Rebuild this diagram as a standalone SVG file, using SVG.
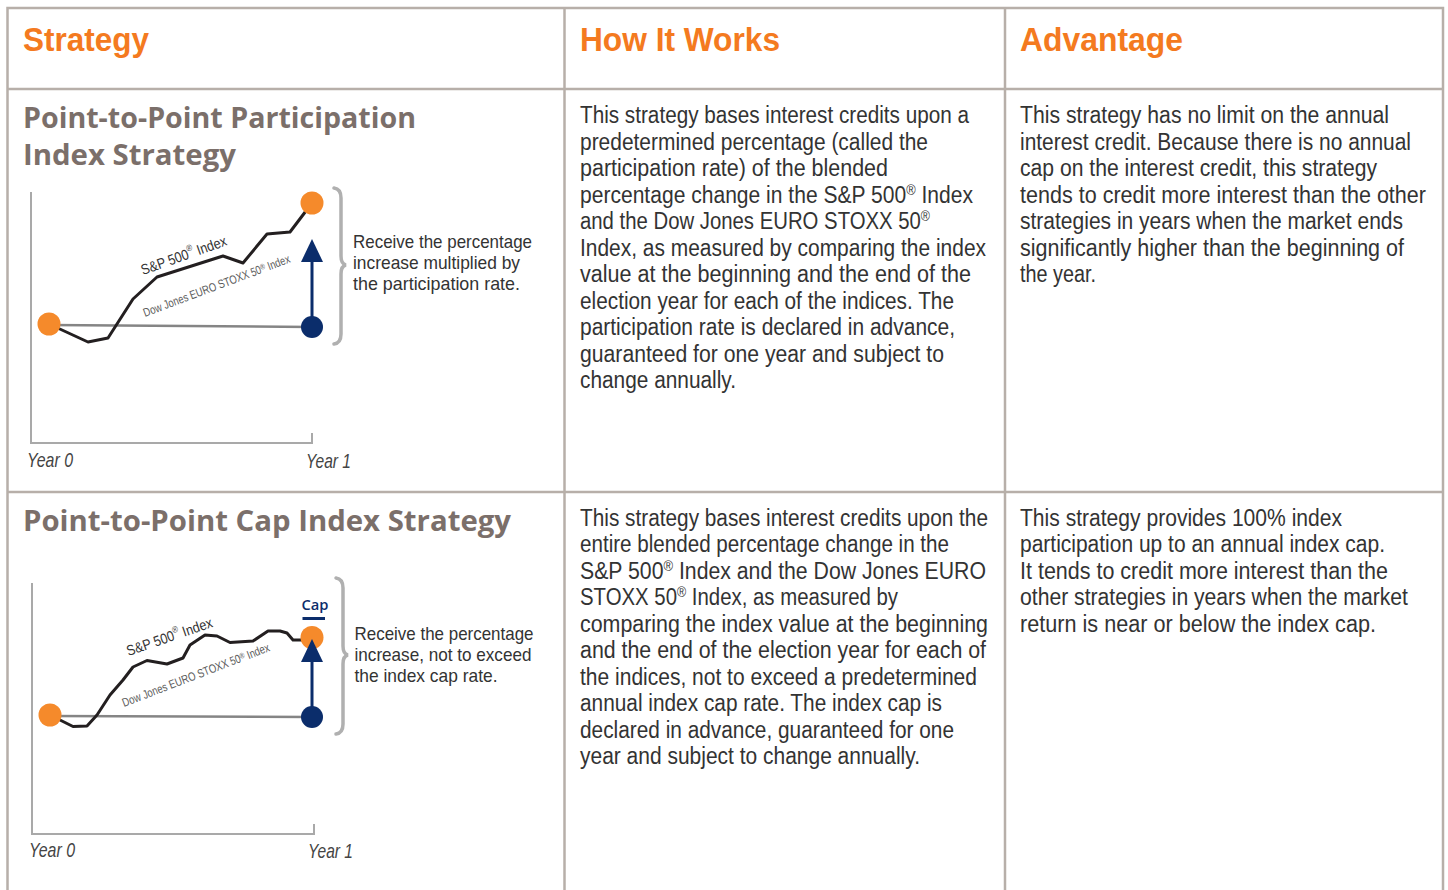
<svg xmlns="http://www.w3.org/2000/svg" width="1448" height="890" viewBox="0 0 1448 890">
<style>
.grid{stroke:#b7afa9;stroke-width:2.5;fill:none}
.hdr{font-family:"Liberation Sans",Arial,sans-serif;font-weight:bold;font-size:34px;fill:#f47a20}
.ttl{font-family:"Open Sans","Liberation Sans",sans-serif;font-weight:bold;font-size:28px;fill:#7b6f6a}
.body{font-family:"Liberation Sans",Arial,sans-serif;font-size:23px;fill:#333333}
.note{font-family:"Liberation Sans",Arial,sans-serif;font-size:19px;fill:#333333}
.yr{font-family:"Liberation Sans",Arial,sans-serif;font-style:italic;font-size:21px;fill:#444444}
.sp{font-family:"Liberation Sans",Arial,sans-serif;font-size:14.5px;fill:#333333}
.dj{font-family:"Liberation Sans",Arial,sans-serif;font-size:12px;fill:#5c5c5c}
.cap{font-family:"Open Sans","Liberation Sans",sans-serif;font-weight:600;font-size:15px;fill:#0b2d6b}
.axis{stroke:#a9a9a9;stroke-width:2;fill:none}
.base{stroke:#858585;stroke-width:2.5;fill:none}
.idx{stroke:#231f20;stroke-width:3;fill:none;stroke-linejoin:round;stroke-linecap:round}
.brace{stroke:#b0b0b0;stroke-width:3.5;fill:none;stroke-linecap:round}
.arr{stroke:#0b2d6b;stroke-width:3;fill:none}
.navy{fill:#0b2d6b}
.org{fill:#f58a2b}
</style>

<g id="table">
<rect class="grid" x="7.5" y="8" width="1435.5" height="900"/>
<line class="grid" x1="7.5" y1="89" x2="1443" y2="89"/>
<line class="grid" x1="7.5" y1="492" x2="1443" y2="492"/>
<line class="grid" x1="564.5" y1="8" x2="564.5" y2="890"/>
<line class="grid" x1="1005" y1="8" x2="1005" y2="890"/>
</g>

<g id="header">
<text class="hdr" x="23" y="51" textLength="126" lengthAdjust="spacingAndGlyphs">Strategy</text>
<text class="hdr" x="580" y="51" textLength="200" lengthAdjust="spacingAndGlyphs">How It Works</text>
<text class="hdr" x="1020" y="51" textLength="163" lengthAdjust="spacingAndGlyphs">Advantage</text>
</g>

<g id="row1-strategy">
<text class="ttl" x="23" y="128" textLength="393" lengthAdjust="spacingAndGlyphs">Point-to-Point Participation</text>
<text class="ttl" x="23" y="165" textLength="213" lengthAdjust="spacingAndGlyphs">Index Strategy</text>
<g id="chart1">
<polyline class="axis" points="31,192 31,443 312,443 312,433"/>
<line class="base" x1="49" y1="325" x2="312" y2="327"/>
<polyline class="idx" points="49,324 88,342 108,338 133,299 157,277 223,256 243,263 267,234 290,232 312,203"/>
<line class="arr" x1="312" y1="327" x2="312" y2="258"/>
<polygon class="navy" points="312,239 301,262 323,262"/>
<circle class="org" cx="49" cy="324" r="11.5"/>
<circle class="org" cx="312" cy="203" r="11.5"/>
<circle class="navy" cx="312" cy="327" r="11"/>
<text class="sp" transform="translate(143,275) rotate(-19.5)" textLength="90" lengthAdjust="spacingAndGlyphs">S&amp;P 500<tspan font-size="9" dy="-7">®</tspan><tspan dy="7"> Index</tspan></text>
<text class="dj" transform="translate(145,317) rotate(-20.6)" textLength="156" lengthAdjust="spacingAndGlyphs">Dow Jones EURO STOXX 50<tspan font-size="8" dy="-3">®</tspan><tspan dy="3"> Index</tspan></text>
<path class="brace" d="M334,188 Q341,189 341,198 L341,256 Q341,264 346,265 Q341,266 341,274 L341,334 Q341,343 334,344"/>
<text class="note" x="353" y="248" textLength="179" lengthAdjust="spacingAndGlyphs">Receive the percentage</text>
<text class="note" x="353" y="269" textLength="167" lengthAdjust="spacingAndGlyphs">increase multiplied by</text>
<text class="note" x="353" y="290" textLength="167" lengthAdjust="spacingAndGlyphs">the participation rate.</text>
<text class="yr" x="27" y="467" textLength="46" lengthAdjust="spacingAndGlyphs">Year 0</text>
<text class="yr" x="306" y="468" textLength="45" lengthAdjust="spacingAndGlyphs">Year 1</text>
</g>
</g>

<g id="row1-how">
<text class="body" x="580" y="123.3" textLength="389" lengthAdjust="spacingAndGlyphs">This strategy bases interest credits upon a</text>
<text class="body" x="580" y="149.8" textLength="348" lengthAdjust="spacingAndGlyphs">predetermined percentage (called the</text>
<text class="body" x="580" y="176.3" textLength="308" lengthAdjust="spacingAndGlyphs">participation rate) of the blended</text>
<text class="body" x="580" y="202.8" textLength="393" lengthAdjust="spacingAndGlyphs">percentage change in the S&amp;P 500<tspan font-size="14" dy="-8">®</tspan><tspan dy="8"> Index</tspan></text>
<text class="body" x="580" y="229.3" textLength="350" lengthAdjust="spacingAndGlyphs">and the Dow Jones EURO STOXX 50<tspan font-size="14" dy="-8">®</tspan></text>
<text class="body" x="580" y="255.8" textLength="406" lengthAdjust="spacingAndGlyphs">Index, as measured by comparing the index</text>
<text class="body" x="580" y="282.3" textLength="391" lengthAdjust="spacingAndGlyphs">value at the beginning and the end of the</text>
<text class="body" x="580" y="308.8" textLength="374" lengthAdjust="spacingAndGlyphs">election year for each of the indices. The</text>
<text class="body" x="580" y="335.3" textLength="375" lengthAdjust="spacingAndGlyphs">participation rate is declared in advance,</text>
<text class="body" x="580" y="361.8" textLength="364" lengthAdjust="spacingAndGlyphs">guaranteed for one year and subject to</text>
<text class="body" x="580" y="388.3" textLength="156" lengthAdjust="spacingAndGlyphs">change annually.</text>
</g>

<g id="row1-advantage">
<text class="body" x="1020" y="123.3" textLength="369" lengthAdjust="spacingAndGlyphs">This strategy has no limit on the annual</text>
<text class="body" x="1020" y="149.8" textLength="391" lengthAdjust="spacingAndGlyphs">interest credit. Because there is no annual</text>
<text class="body" x="1020" y="176.3" textLength="357" lengthAdjust="spacingAndGlyphs">cap on the interest credit, this strategy</text>
<text class="body" x="1020" y="202.8" textLength="406" lengthAdjust="spacingAndGlyphs">tends to credit more interest than the other</text>
<text class="body" x="1020" y="229.3" textLength="383" lengthAdjust="spacingAndGlyphs">strategies in years when the market ends</text>
<text class="body" x="1020" y="255.8" textLength="384" lengthAdjust="spacingAndGlyphs">significantly higher than the beginning of</text>
<text class="body" x="1020" y="282.3" textLength="76" lengthAdjust="spacingAndGlyphs">the year.</text>
</g>

<g id="row2-strategy">
<text class="ttl" x="23" y="531" textLength="488" lengthAdjust="spacingAndGlyphs">Point-to-Point Cap Index Strategy</text>
<g id="chart2">
<polyline class="axis" points="32,583 32,834 314,834 314,824"/>
<line class="base" x1="50" y1="716" x2="312" y2="717"/>
<polyline class="idx" points="50,715 60,720 73,726.5 87,726 97,715 110,695 123,680 133,667 147,660.5 167,664 183,658 190,645 205,635 217,636 230,642.5 253,641 268,631 280,631 287,633 293,640 303,640 312,638"/>
<circle class="org" cx="50" cy="715" r="11.5"/>
<circle class="org" cx="312" cy="637.5" r="11.5"/>
<line class="arr" x1="312" y1="717" x2="312" y2="657"/>
<polygon class="navy" points="312,639 301,662 323,662"/>
<circle class="navy" cx="312" cy="717" r="11"/>
<text class="cap" x="315" y="609.5" text-anchor="middle" textLength="27" lengthAdjust="spacingAndGlyphs">Cap</text>
<rect class="navy" x="302.5" y="617" width="22.5" height="3"/>
<text class="sp" transform="translate(128.5,656) rotate(-19)" textLength="90" lengthAdjust="spacingAndGlyphs">S&amp;P 500<tspan font-size="9" dy="-7">®</tspan><tspan dy="7"> Index</tspan></text>
<text class="dj" transform="translate(124,707) rotate(-21)" textLength="157" lengthAdjust="spacingAndGlyphs">Dow Jones EURO STOXX 50<tspan font-size="8" dy="-3">®</tspan><tspan dy="3"> Index</tspan></text>
<path class="brace" d="M336,578 Q343,579 343,588 L343,646 Q343,654 348,655 Q343,656 343,664 L343,724 Q343,733 336,734"/>
<text class="note" x="354.5" y="640" textLength="179" lengthAdjust="spacingAndGlyphs">Receive the percentage</text>
<text class="note" x="354.5" y="661" textLength="177" lengthAdjust="spacingAndGlyphs">increase, not to exceed</text>
<text class="note" x="354.5" y="682" textLength="143" lengthAdjust="spacingAndGlyphs">the index cap rate.</text>
<text class="yr" x="29" y="857" textLength="46" lengthAdjust="spacingAndGlyphs">Year 0</text>
<text class="yr" x="308" y="858" textLength="45" lengthAdjust="spacingAndGlyphs">Year 1</text>
</g>
</g>

<g id="row2-how">
<text class="body" x="580" y="525.5" textLength="408" lengthAdjust="spacingAndGlyphs">This strategy bases interest credits upon the</text>
<text class="body" x="580" y="552" textLength="369" lengthAdjust="spacingAndGlyphs">entire blended percentage change in the</text>
<text class="body" x="580" y="578.5" textLength="406" lengthAdjust="spacingAndGlyphs">S&amp;P 500<tspan font-size="14" dy="-8">®</tspan><tspan dy="8"> Index and the Dow Jones EURO</tspan></text>
<text class="body" x="580" y="605" textLength="318" lengthAdjust="spacingAndGlyphs">STOXX 50<tspan font-size="14" dy="-8">®</tspan><tspan dy="8"> Index, as measured by</tspan></text>
<text class="body" x="580" y="631.5" textLength="408" lengthAdjust="spacingAndGlyphs">comparing the index value at the beginning</text>
<text class="body" x="580" y="658" textLength="406" lengthAdjust="spacingAndGlyphs">and the end of the election year for each of</text>
<text class="body" x="580" y="684.5" textLength="397" lengthAdjust="spacingAndGlyphs">the indices, not to exceed a predetermined</text>
<text class="body" x="580" y="711" textLength="362" lengthAdjust="spacingAndGlyphs">annual index cap rate. The index cap is</text>
<text class="body" x="580" y="737.5" textLength="374" lengthAdjust="spacingAndGlyphs">declared in advance, guaranteed for one</text>
<text class="body" x="580" y="764" textLength="340" lengthAdjust="spacingAndGlyphs">year and subject to change annually.</text>
</g>

<g id="row2-advantage">
<text class="body" x="1020" y="525.5" textLength="322" lengthAdjust="spacingAndGlyphs">This strategy provides 100% index</text>
<text class="body" x="1020" y="552" textLength="365" lengthAdjust="spacingAndGlyphs">participation up to an annual index cap.</text>
<text class="body" x="1020" y="578.5" textLength="368" lengthAdjust="spacingAndGlyphs">It tends to credit more interest than the</text>
<text class="body" x="1020" y="605" textLength="388" lengthAdjust="spacingAndGlyphs">other strategies in years when the market</text>
<text class="body" x="1020" y="631.5" textLength="356" lengthAdjust="spacingAndGlyphs">return is near or below the index cap.</text>
</g>
</svg>
